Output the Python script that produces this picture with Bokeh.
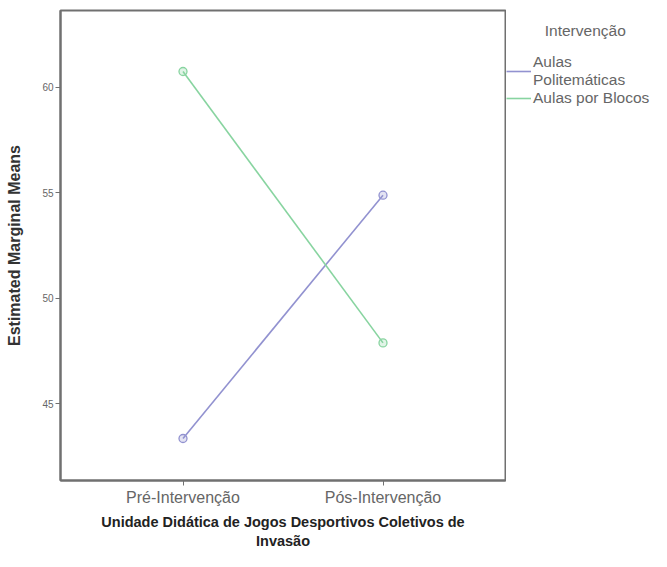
from bokeh.plotting import figure
from bokeh.layouts import row
from bokeh.models import FactorRange, Range1d, FixedTicker, Legend, LegendItem
from bokeh.embed import file_html
from bokeh.resources import INLINE

categories = ["Pré-Intervenção", "Pós-Intervenção"]
aulas_politematicas = [43.35, 54.88]
aulas_por_blocos = [60.74, 47.88]
y_ticks = [45, 50, 55, 60]
series_names = ["Aulas\nPolitemáticas", "Aulas por Blocos"]
legend_title = "Intervenção"
x_title = "Unidade Didática de Jogos Desportivos Coletivos de\nInvasão"
y_title = "Estimated Marginal Means"

PURPLE = "#9292d0"
GREEN = "#88d4a0"
FONT = "Liberation Sans"
series = [(aulas_politematicas, PURPLE), (aulas_por_blocos, GREEN)]

# ---------------- main chart ----------------
p = figure(
    width=506, height=551,
    x_range=FactorRange(factors=categories, range_padding=0.1125, range_padding_units="absolute"),
    y_range=Range1d(41.36, 63.63),
    output_backend="svg", toolbar_location=None,
    min_border_left=60, min_border_top=10, min_border_right=1, min_border_bottom=70,
)
p.background_fill_color = "white"
p.border_fill_color = "white"
p.xgrid.visible = False
p.ygrid.visible = False
p.outline_line_color = "#707070"
p.outline_line_width = 2

for vals, col in series:
    p.line(categories, vals, line_color=col, line_width=1.6)
    p.scatter(categories, vals, marker="circle", size=8,
              line_color=col, fill_color=col, fill_alpha=0.25, line_width=1.3)

ya = p.yaxis[0]
ya.ticker = FixedTicker(ticks=y_ticks)
ya.axis_label = y_title
ya.axis_label_text_font = FONT
ya.axis_label_text_font_style = "bold"
ya.axis_label_text_font_size = "16px"
ya.axis_label_text_color = "#333333"
ya.axis_label_standoff = 16
ya.major_label_text_font = FONT
ya.major_label_text_font_size = "10px"
ya.major_label_text_color = "#666666"
ya.major_label_standoff = 2
ya.major_tick_out = 5
ya.major_tick_in = 0
ya.minor_tick_out = 0
ya.minor_tick_in = 0
ya.axis_line_color = "#707070"
ya.axis_line_width = 2
ya.major_tick_line_color = "#707070"

xa = p.xaxis[0]
xa.axis_label = x_title
xa.axis_label_text_font = FONT
xa.axis_label_text_font_style = "bold"
xa.axis_label_text_font_size = "14.5px"
xa.axis_label_text_color = "#222222"
xa.axis_label_standoff = 5
xa.major_label_text_font = FONT
xa.major_label_text_font_size = "16px"
xa.major_label_text_color = "#666666"
xa.major_label_standoff = 3
xa.major_tick_out = 5
xa.major_tick_in = 0
xa.axis_line_color = "#707070"
xa.axis_line_width = 2
xa.major_tick_line_color = "#707070"

# ---------------- legend panel (right of the chart) ----------------
lf = figure(
    width=145, height=551,
    x_range=FactorRange(factors=categories), y_range=Range1d(0, 1),
    x_axis_type=None, y_axis_type=None,
    output_backend="svg", toolbar_location=None,
    min_border_left=0, min_border_right=0, min_border_top=10, min_border_bottom=70,
)
lf.outline_line_color = None
lf.xgrid.visible = False
lf.ygrid.visible = False
lf.background_fill_color = "white"
lf.border_fill_color = "white"

items = []
for name, (vals, col) in zip(series_names, series):
    # lines carry the series' data; the legend panel's y-range keeps them out of view
    r = lf.line(categories, vals, line_color=col, line_width=1.6)
    items.append(LegendItem(label=name, renderers=[r]))

legend = Legend(
    items=items,
    location=(0, 373),
    title="\u00a0" * 9 + legend_title,
    title_text_font=FONT, title_text_font_size="15.5px", title_text_color="#666666",
    title_text_font_style="normal", title_standoff=13,
    padding=0, margin=0, spacing=0,
    glyph_width=25, glyph_height=18, label_standoff=2, label_height=18,
    border_line_alpha=0, background_fill_alpha=0,
    label_text_font=FONT, label_text_font_size="15.5px", label_text_color="#666666",
)
lf.add_layout(legend, "center")

layout = row(p, lf, spacing=0)
open("out.html", "w").write(file_html(layout, INLINE))
